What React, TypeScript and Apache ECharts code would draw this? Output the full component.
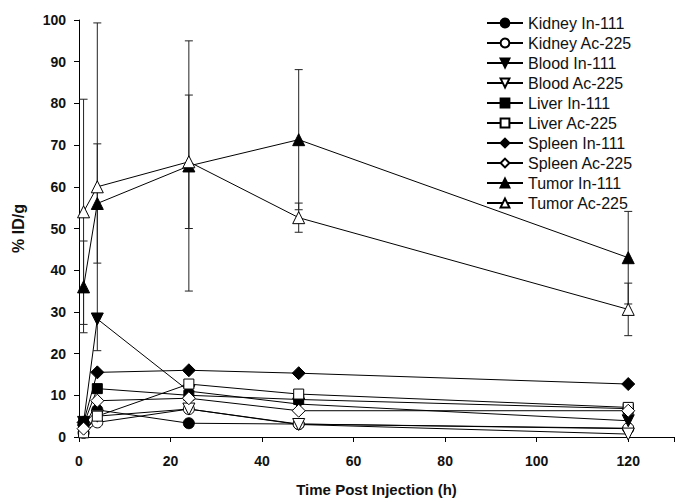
import React, { useEffect, useRef } from "react";
import * as echarts from "echarts";

const times = [1, 4, 24, 48, 120];
const kidneyIn = [3, 6.5, 3.3, 3.1, 2];
const kidneyAc = [1, 3.5, 6.7, 3.1, 2.1];
const bloodIn = [3.5, 28.3, 11, 7.9, 3.9];
const bloodAc = [1.5, 5, 6.7, 3, 0.7];
const liverIn = [3, 11.6, 10, 9, 6.8];
const liverAc = [1, 5, 12.7, 10.3, 7.1];
const spleenIn = [3.5, 15.5, 16, 15.3, 12.7];
const spleenAc = [2, 8.7, 9.3, 6.3, 6.3];
const tumorIn = [36, 56, 65, 71.3, 43];
const tumorAc = [54, 60, 66, 52.6, 30.6];
const tumorInErr = [11, 14.3, 30, 16.8, 11.1];
const tumorAcErr = [27, 39.3, 16, 3.5, 6.3];

const xTicks = [0, 20, 40, 60, 80, 100, 120];
const yTicks = [0, 10, 20, 30, 40, 50, 60, 70, 80, 90, 100];

const FONT = "'Liberation Sans', Arial, sans-serif";

type Def = { name: string; values: number[]; symbol: string; filled: boolean; rotate?: number; size: number };

const defs: Def[] = [
  { name: "Kidney In-111", values: kidneyIn, symbol: "circle", filled: true, size: 11 },
  { name: "Kidney Ac-225", values: kidneyAc, symbol: "circle", filled: false, size: 11 },
  { name: "Blood In-111", values: bloodIn, symbol: "triangle", filled: true, rotate: 180, size: 12 },
  { name: "Blood Ac-225", values: bloodAc, symbol: "triangle", filled: false, rotate: 180, size: 12 },
  { name: "Liver In-111", values: liverIn, symbol: "rect", filled: true, size: 10 },
  { name: "Liver Ac-225", values: liverAc, symbol: "rect", filled: false, size: 10 },
  { name: "Spleen In-111", values: spleenIn, symbol: "diamond", filled: true, size: 13 },
  { name: "Spleen Ac-225", values: spleenAc, symbol: "diamond", filled: false, size: 13 },
  { name: "Tumor In-111", values: tumorIn, symbol: "triangle", filled: true, size: 12 },
  { name: "Tumor Ac-225", values: tumorAc, symbol: "triangle", filled: false, size: 12 },
];

function errData(vals: number[], errs: number[]) {
  return times.map((t, i) => [t, vals[i] - errs[i], vals[i] + errs[i]]);
}

export default function App() {
  const ref = useRef<HTMLDivElement>(null);
  useEffect(() => {
    if (!ref.current) return;
    const chart = echarts.init(ref.current, undefined, { renderer: "svg" });
    const errSeries = (name: string, data: number[][]) => ({
      type: "custom",
      name,
      z: 1,
      silent: true,
      data,
      renderItem: (params: any, api: any) => {
        const x = api.value(0);
        const lo = Math.max(0, api.value(1));
        const hi = api.value(2);
        const pHi = api.coord([x, hi]);
        const pLo = api.coord([x, lo]);
        const w = 4;
        const style = { stroke: "#222", lineWidth: 1 };
        return {
          type: "group",
          children: [
            { type: "line", shape: { x1: pHi[0], y1: pHi[1], x2: pLo[0], y2: pLo[1] }, style },
            { type: "line", shape: { x1: pHi[0] - w, y1: pHi[1], x2: pHi[0] + w, y2: pHi[1] }, style },
            { type: "line", shape: { x1: pLo[0] - w, y1: pLo[1], x2: pLo[0] + w, y2: pLo[1] }, style },
          ],
        };
      },
    });
    const lineSeries = defs.map((d) => ({
      type: "line",
      name: d.name,
      z: 3,
      data: times.map((t, i) => [t, d.values[i]]),
      symbol: d.symbol,
      symbolSize: d.size,
      symbolRotate: d.rotate || 0,
      showAllSymbol: true,
      lineStyle: { color: "#000", width: 1 },
      itemStyle: { color: d.filled ? "#000" : "#fff", borderColor: "#000", borderWidth: 1 },
      emphasis: { disabled: true },
    }));
    chart.setOption({
      animation: false,
      backgroundColor: "#fff",
      grid: { left: 79, right: 0, top: 20, bottom: 64, containLabel: false },
      legend: {
        orient: "vertical",
        left: 481,
        top: 10,
        itemWidth: 36,
        itemHeight: 11,
        itemGap: 4,
        data: defs.map((d) => d.name),
        textStyle: { fontFamily: FONT, fontSize: 16, color: "#111" },
        selectedMode: false,
      },
      xAxis: {
        type: "value",
        min: 0,
        max: 130,
        interval: 20,
        name: "Time Post Injection (h)",
        nameLocation: "middle",
        nameGap: 45,
        nameTextStyle: { fontFamily: FONT, fontSize: 15, fontWeight: "bold", color: "#111" },
        axisLine: { show: true, lineStyle: { color: "#000", width: 1 } },
        axisTick: { show: true, length: 5, lineStyle: { color: "#000" } },
        axisLabel: {
          margin: 17,
          fontFamily: FONT,
          fontSize: 14,
          fontWeight: "bold",
          color: "#111",
          formatter: (v: number) => (xTicks.includes(v) ? String(v) : ""),
        },
        splitLine: { show: false },
      },
      yAxis: {
        type: "value",
        min: 0,
        max: 100,
        interval: 10,
        name: "% ID/g",
        nameLocation: "middle",
        nameGap: 53,
        nameRotate: 90,
        nameTextStyle: { fontFamily: FONT, fontSize: 16, fontWeight: "bold", color: "#111" },
        axisLine: { show: true, lineStyle: { color: "#000", width: 1 } },
        axisTick: { show: true, length: 5, lineStyle: { color: "#000" } },
        axisLabel: {
          margin: 13,
          fontFamily: FONT,
          fontSize: 14,
          fontWeight: "bold",
          color: "#111",
          formatter: (v: number) => (yTicks.includes(v) ? String(v) : ""),
        },
        splitLine: { show: false },
      },
      series: [
        errSeries("errTumorIn", errData(tumorIn, tumorInErr)),
        errSeries("errTumorAc", errData(tumorAc, tumorAcErr)),
        ...lineSeries,
      ],
    });
    return () => chart.dispose();
  }, []);
  return (
    <div
      ref={ref}
      style={{ position: "fixed", left: 0, top: 0, width: 677, height: 502, background: "#fff" }}
    />
  );
}
